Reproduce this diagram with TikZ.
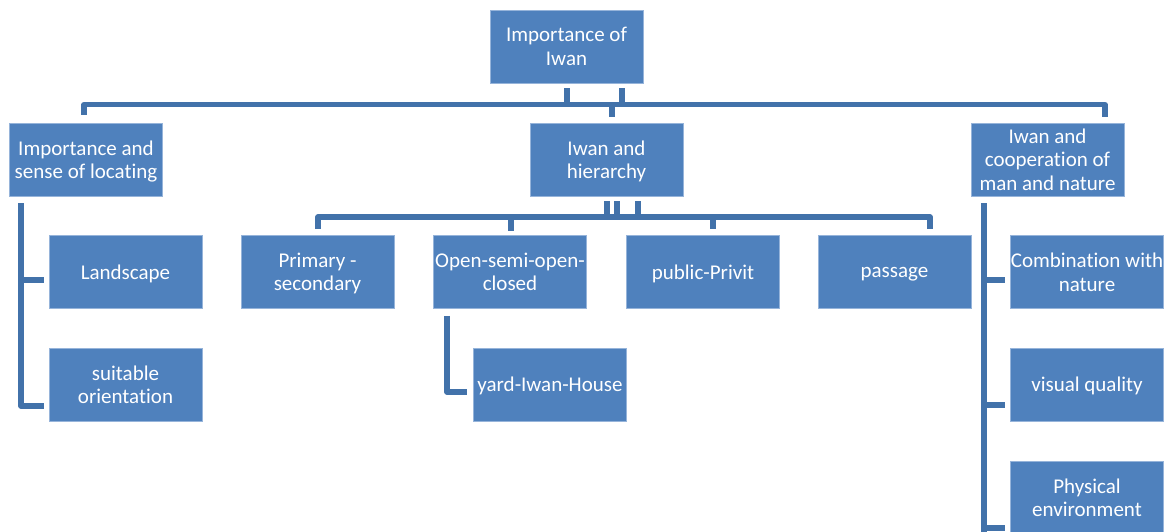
\documentclass[tikz,border=0pt]{standalone}
\usepackage{fontspec}
\setmainfont{Carlito}[Ligatures=NoCommon]
\definecolor{boxblue}{RGB}{79,129,189}
\definecolor{boxedge}{RGB}{150,180,218}
\definecolor{linkblue}{RGB}{66,114,170}
\begin{document}
\begin{tikzpicture}[x=1pt,y=1pt,
  box/.style={fill=boxblue,draw=boxedge,line width=0.8pt,minimum width=153pt,minimum height=73pt,
    inner sep=0pt,text depth=0pt,align=center,text=white,font=\fontsize{21}{23.5}\selectfont},
  conn/.style={draw=linkblue,line width=5.5pt,line join=round}]
\useasboundingbox (0,0) rectangle (1166,-531);
\clip (0,0) rectangle (1166,-531);
% level 0
\node[box] (top) at (566.5,-46.5) {Importance of\\Iwan};
% level 1
\node[box] (n1) at (86,-159.5) {Importance and\\sense of locating};
\node[box] (n2) at (606.5,-159.5) {Iwan and\\hierarchy};
\node[box] (n3) at (1047.5,-159.5) {Iwan and\\cooperation of\\man and nature};
% left children
\node[box] (land) at (125.5,-272) {Landscape};
\node[box] (suit) at (125.5,-384.5) {suitable\\orientation};
% middle children
\node[box] (prim) at (317.5,-272) {Primary -\\secondary};
\node[box] (open) at (510,-272) {Open-semi-open-\\closed};
\node[box] (pub) at (703,-272) {public-Privit};
\node[box] (pass) at (894.5,-272) {passage};
\node[box] (yard) at (550,-384.5) {yard-Iwan-House};
% right children
\node[box] (comb) at (1087,-272) {Combination with\\nature};
\node[box] (vis) at (1087,-384.5) {visual quality};
\node[box] (phys) at (1087,-497.5) {Physical\\environment};
% top connectors
\draw[conn] ([xshift=0.5pt,yshift=-5pt]top.south) -- ([xshift=0.5pt,yshift=-22pt]top.south);
\draw[conn] ([xshift=55.5pt,yshift=-5pt]top.south) -- ([xshift=55.5pt,yshift=-22pt]top.south);
\draw[conn] ([xshift=-2pt,yshift=8pt]n1.north) |- ([xshift=57.5pt,yshift=18pt]n3.north) -- ([xshift=57.5pt,yshift=6pt]n3.north);
\draw[conn] ([xshift=5.5pt,yshift=18pt]n2.north) -- ([xshift=5.5pt,yshift=6pt]n2.north);
% middle connectors
\draw[conn] ([xshift=0.5pt,yshift=-5pt]n2.south) -- ([xshift=0.5pt,yshift=-21pt]n2.south);
\draw[conn] ([xshift=10.5pt,yshift=-5pt]n2.south) -- ([xshift=10.5pt,yshift=-21pt]n2.south);
\draw[conn] ([xshift=31.5pt,yshift=-5pt]n2.south) -- ([xshift=31.5pt,yshift=-21pt]n2.south);
\draw[conn] ([xshift=0.5pt,yshift=6pt]prim.north) |- ([xshift=35.5pt,yshift=18pt]pass.north) -- ([xshift=35.5pt,yshift=6pt]pass.north);
\draw[conn] ([xshift=1pt,yshift=18pt]open.north) -- ([xshift=1pt,yshift=4pt]open.north);
\draw[conn] ([xshift=10pt,yshift=18pt]pub.north) -- ([xshift=10pt,yshift=6pt]pub.north);
\draw[conn] ([xshift=14pt,yshift=-7pt]open.south west) |- ([xshift=-6pt,yshift=-7.5pt]yard.west);
% left connectors
\draw[conn] ([xshift=12pt,yshift=-7pt]n1.south west) |- ([xshift=-5pt,yshift=-21.5pt]suit.west);
\draw[conn] ([xshift=-27pt,yshift=-8pt]land.west) -- ([xshift=-5pt,yshift=-8pt]land.west);
% right connectors
\draw[conn] ([xshift=13.5pt,yshift=-7pt]n3.south west) -- ([xshift=-26pt,yshift=-40pt]phys.west);
\draw[conn] ([xshift=-26pt,yshift=-8pt]comb.west) -- ([xshift=-5pt,yshift=-8pt]comb.west);
\draw[conn] ([xshift=-26pt,yshift=-20.5pt]vis.west) -- ([xshift=-5pt,yshift=-20.5pt]vis.west);
\draw[conn] ([xshift=-26pt,yshift=-30.5pt]phys.west) -- ([xshift=-5pt,yshift=-30.5pt]phys.west);
\end{tikzpicture}
\end{document}
